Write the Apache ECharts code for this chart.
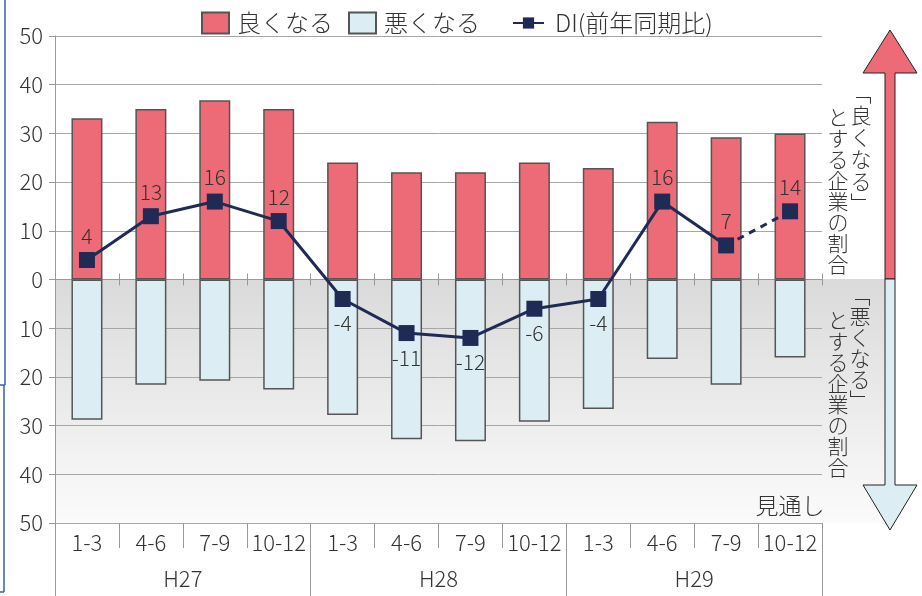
<!DOCTYPE html>
<html>
<head>
<meta charset="utf-8">
<script src="https://cdn.jsdelivr.net/npm/echarts@6/dist/echarts.min.js"></script>
<style>
html,body{margin:0;padding:0;background:#fff;}
#main{width:922px;height:596px;}
</style>
</head>
<body>
<div id="main"></div>
<script>
var quarters = ['1-3','4-6','7-9','10-12','1-3','4-6','7-9','10-12','1-3','4-6','7-9','10-12'];
var years = ['H27','H28','H29'];
var goodShare = [33.1, 35, 36.8, 35, 24, 22, 22, 24, 22.9, 32.4, 29.2, 30];
var badShare = [-28.8, -21.6, -20.8, -22.6, -27.8, -32.8, -33.2, -29.2, -26.6, -16.3, -21.6, -16];
var diActual = [4, 13, 16, 12, -4, -11, -12, -6, -4, 16, 7, '-'];
var diOutlook = ['-', '-', '-', '-', '-', '-', '-', '-', '-', '-', 7, 14];
var yTicks = [-50, 50, 10];

var FONT = '"Noto Sans CJK JP", "Noto Sans", sans-serif';
var RED = '#ec6b76';
var BLUE = '#dceef4';
var NAVY = '#1f2b55';
var TXT = '#333';

// DI points: labels above for positive, below for negative
function diItems(arr, hideIdx) {
    return arr.map(function (v, i) {
        if (v === '-') return v;
        var it = {
            value: v,
            label: { position: v >= 0 ? 'top' : 'bottom' }
        };
        if (i === hideIdx) {
            it.symbol = 'none';
            it.label = { show: false };
        }
        return it;
    });
}

var chart = echarts.init(document.getElementById('main'));

chart.setOption({
    animation: false,
    textStyle: { fontFamily: FONT, color: TXT, fontWeight: 300 },
    grid: { left: 55, right: 100, top: 36, bottom: 73, outerBoundsMode: 'none' },
    legend: [
        {
            data: [{ name: '良くなる', icon: 'rect' }, { name: '悪くなる', icon: 'rect' }],
            left: 196, top: 6,
            itemWidth: 27, itemHeight: 21, itemGap: 15,
            textStyle: { fontSize: 24, color: TXT, fontWeight: 300, padding: [0, 0, 0, 3] }
        },
        {
            data: ['DI(前年同期比)'],
            left: 507, top: 6,
            itemWidth: 31, itemHeight: 14,
            textStyle: { fontSize: 24, color: TXT, fontWeight: 300, padding: [0, 0, 0, 6] }
        }
    ],
    xAxis: [
        {
            type: 'category', data: quarters, position: 'bottom',
            axisLine: { show: false, onZero: false },
            axisTick: { show: true, interval: 0, length: 25, lineStyle: { color: '#999' } },
            axisLabel: { fontSize: 22, color: TXT, fontWeight: 300, margin: 9, interval: 0 }
        },
        {
            type: 'category', data: years, position: 'bottom',
            axisLine: { show: false, onZero: false },
            axisTick: { show: true, interval: 0, length: 74, lineStyle: { color: '#999' } },
            axisLabel: { fontSize: 22, color: TXT, fontWeight: 300, margin: 45, interval: 0 }
        },
        {
            type: 'category', data: quarters, position: 'bottom',
            axisLine: { show: true, onZero: true, onZeroAxisIndex: 0, lineStyle: { color: '#999' } },
            axisTick: { show: true, inside: true, interval: 0, length: 6, lineStyle: { color: '#999' } },
            axisLabel: { show: false }
        },
        {
            type: 'category', data: quarters, position: 'bottom',
            axisLine: { show: false, onZero: true, onZeroAxisIndex: 0 },
            axisTick: { show: true, interval: 0, length: 6, lineStyle: { color: '#999' } },
            axisLabel: { show: false }
        }
    ],
    yAxis: {
        type: 'value', min: yTicks[0], max: yTicks[1], interval: yTicks[2],
        axisLine: { show: true, lineStyle: { color: '#999' } },
        axisTick: { show: true, length: 6, lineStyle: { color: '#999' } },
        axisLabel: {
            fontSize: 22, color: TXT, fontWeight: 300, margin: 12,
            formatter: function (v) { return Math.abs(v); }
        },
        splitLine: { lineStyle: { color: '#a6a6a6' } }
    },
    graphic: [
        {
            type: 'rect', z: -10, silent: true,
            shape: { x: 55, y: 279, width: 830, height: 244 },
            style: {
                fill: new echarts.graphic.LinearGradient(0, 0, 0, 1, [
                    { offset: 0, color: '#dadada' },
                    { offset: 1, color: '#fbfbfb' }
                ])
            }
        },
        {
            type: 'polygon', z: 10,
            shape: { points: [[885, 279], [885, 73], [863, 73], [890, 30], [917, 73], [895, 73], [895, 279]] },
            style: { fill: RED, stroke: '#222', lineWidth: 1 }
        },
        {
            type: 'polygon', z: 10,
            shape: { points: [[885, 279], [885, 485], [863, 485], [890, 530], [917, 485], [895, 485], [895, 279]] },
            style: { fill: BLUE, stroke: '#222', lineWidth: 1 }
        },
        {
            type: 'text', z: 10, x: 861, y: 82,
            style: { text: '﹁\n良\nく\nな\nる\n﹂', font: '300 21px ' + FONT, fill: TXT, align: 'center', verticalAlign: 'top', lineHeight: 22 }
        },
        {
            type: 'text', z: 10, x: 838, y: 107,
            style: { text: 'と\nす\nる\n企\n業\nの\n割\n合', font: '300 21px ' + FONT, fill: TXT, align: 'center', verticalAlign: 'top', lineHeight: 21 }
        },
        {
            type: 'text', z: 10, x: 860, y: 285,
            style: { text: '﹁\n悪\nく\nな\nる\n﹂', font: '300 21px ' + FONT, fill: TXT, align: 'center', verticalAlign: 'top', lineHeight: 21 }
        },
        {
            type: 'text', z: 10, x: 838, y: 310,
            style: { text: 'と\nす\nる\n企\n業\nの\n割\n合', font: '300 21px ' + FONT, fill: TXT, align: 'center', verticalAlign: 'top', lineHeight: 21 }
        },
        {
            type: 'text', z: 10, x: 790, y: 505,
            style: { text: '見通し', font: '300 23px ' + FONT, fill: TXT, align: 'center', verticalAlign: 'middle' }
        },
        { type: 'line', shape: { x1: 5, y1: 0, x2: 5, y2: 385 }, style: { stroke: '#3a5bb5', lineWidth: 1.5 } },
        { type: 'line', shape: { x1: 0, y1: 385, x2: 5, y2: 385 }, style: { stroke: '#3a5bb5', lineWidth: 1.5 } },
        { type: 'line', shape: { x1: 4, y1: 385, x2: 4, y2: 592 }, style: { stroke: '#3a5bb5', lineWidth: 1.5 } },
        { type: 'line', shape: { x1: 0, y1: 592, x2: 4, y2: 592 }, style: { stroke: '#3a5bb5', lineWidth: 1.5 } }
    ],
    series: [
        {
            name: '良くなる', type: 'bar', stack: 'share', barWidth: 31,
            data: goodShare,
            itemStyle: { color: RED, borderColor: '#555', borderWidth: 1.5 }
        },
        {
            name: '悪くなる', type: 'bar', stack: 'share', barWidth: 31,
            data: badShare,
            itemStyle: { color: BLUE, borderColor: '#555', borderWidth: 1.5 }
        },
        {
            name: 'DI(前年同期比)', type: 'line', z: 5,
            data: diItems(diActual, -1),
            symbol: 'rect', symbolSize: 16,
            itemStyle: { color: NAVY },
            lineStyle: { color: NAVY, width: 3 },
            label: { show: true, fontSize: 21, color: TXT, fontWeight: 300, distance: 6 }
        },
        {
            name: 'DI(前年同期比)', type: 'line', z: 5,
            data: diItems(diOutlook, 10),
            symbol: 'rect', symbolSize: 16,
            itemStyle: { color: NAVY },
            lineStyle: { color: NAVY, width: 3, type: [7, 6] },
            label: { show: true, fontSize: 21, color: TXT, fontWeight: 300, distance: 6 }
        }
    ]
});
</script>
</body>
</html>
